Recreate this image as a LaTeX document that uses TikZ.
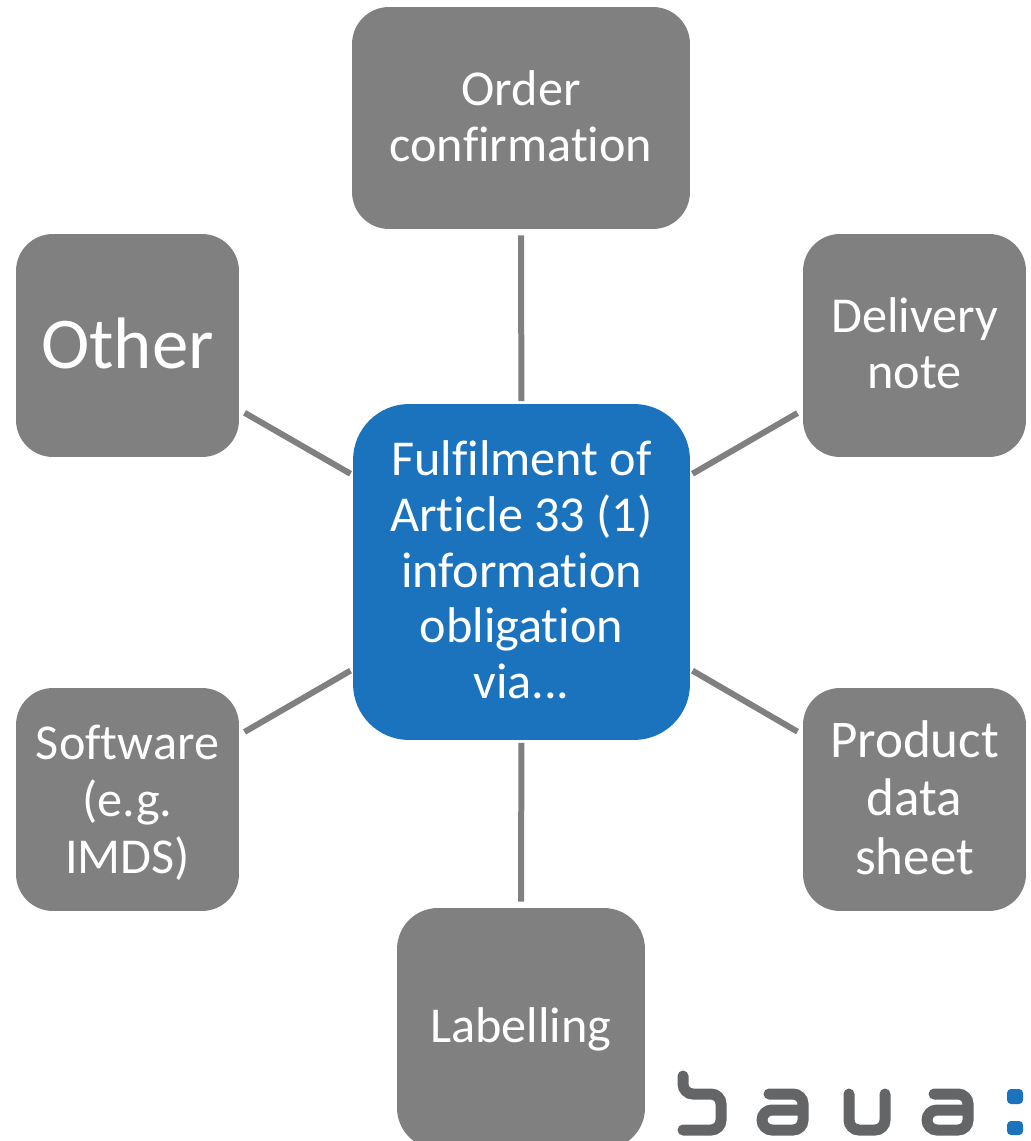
\documentclass[tikz,border=0pt]{standalone}
\usepackage{fontspec}
\setmainfont[Ligatures=NoCommon]{Carlito}
\definecolor{boxgrey}{HTML}{808080}
\definecolor{bauablue}{HTML}{1C73BD}
\definecolor{logogrey}{HTML}{646567}

\begin{document}
\begin{tikzpicture}[
    x=0.02cm, y=-0.02cm,
    gridbox/.style={shape=rectangle, fill=boxgrey, text=white, align=center, inner sep=0pt,
        minimum width=4.46cm, minimum height=4.46cm, rounded corners=0.74cm, text depth=2.5pt,
        font=\fontsize{28.6}{31.7}\selectfont},
    centrebox/.style={gridbox, fill=bauablue, minimum width=6.74cm, minimum height=6.72cm, rounded corners=1.12cm},
    link/.style={draw=boxgrey, line width=0.12cm, shorten <=0.12cm, shorten >=0.05cm},
    logostroke/.style={draw=logogrey, line width=0.22cm, line cap=round, rounded corners=0.2cm},
]
\useasboundingbox (0, 0) rectangle (1030, 1141);

\node[centrebox] (fulfil) at (521.5, 572) {Fulfilment of\\Article 33 (1)\\information\\obligation\\via...};
\node[gridbox, minimum width=6.76cm, minimum height=4.44cm] (order) at (521, 118) {Order\\confirmation};
\node[gridbox] (delivery) at (914.5, 345.5) {Delivery\\note};
\node[gridbox, font=\fontsize{30.2}{33.2}\selectfont] (product) at (914.5, 799.5) {Product\\data\\sheet};
\node[gridbox, minimum width=4.96cm, minimum height=4.82cm, rounded corners=0.82cm, text depth=3.4pt] (labelling) at (521, 1028.5) {Labelling};
\node[gridbox, text depth=0pt, font=\fontsize{28.6}{32.3}\selectfont] (software) at (127.5, 799.5) {Software\\(e.g.\\IMDS)};
\node[gridbox, font=\fontsize{41.5}{48}\selectfont] (other) at (127.5, 345.5) {Other};

\path[link]
    (order) edge (fulfil)
    (delivery) edge (fulfil)
    (product) edge (fulfil)
    (labelling) edge (fulfil)
    (software) edge (fulfil)
    (other) edge (fulfil)
;

% logo
\draw[logostroke] (683, 1076) -- (683, 1094) -- (721, 1094) -- (721, 1130) -- (683, 1130);
\draw[logostroke] (769, 1094) -- (803, 1094) -- (803, 1130) -- (762, 1130) -- (762, 1110) -- (803, 1110);
\draw[logostroke] (849, 1094) -- (849, 1130) -- (885, 1130) -- (885, 1094);
\draw[logostroke] (934, 1094) -- (968, 1094) -- (968, 1130) -- (927, 1130) -- (927, 1110) -- (968, 1110);
\fill[bauablue, rounded corners=0.08cm] (1007, 1089) rectangle (1023, 1104);
\fill[bauablue, rounded corners=0.08cm] (1007, 1121) rectangle (1023, 1135);
\end{tikzpicture}
\end{document}
